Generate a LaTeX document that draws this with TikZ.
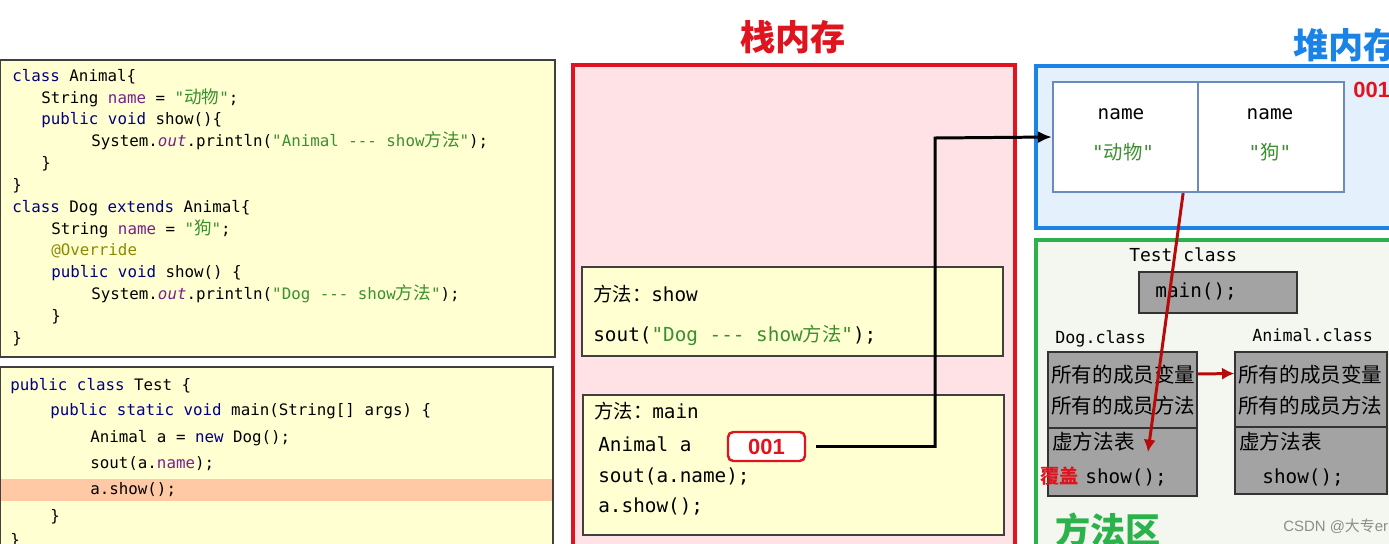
\documentclass[tikz,border=0pt]{standalone}
\usepackage{fontspec}
\setmainfont{Liberation Sans}
\setmonofont{DejaVu Sans Mono}
\newfontfamily\cjk{Noto Sans CJK SC}
\usetikzlibrary{arrows.meta,positioning}

\definecolor{codebg}{HTML}{FFFFD2}
\definecolor{hilite}{HTML}{FFC9A6}
\definecolor{kwblue}{HTML}{000080}
\definecolor{fieldpurple}{HTML}{7A1F8C}
\definecolor{strgreen}{HTML}{3A8F2E}
\definecolor{annolive}{HTML}{8A8A00}
\definecolor{stackred}{HTML}{E0141E}
\definecolor{stackbg}{HTML}{FFE2E6}
\definecolor{heapblue}{HTML}{1B82E6}
\definecolor{heapbg}{HTML}{E4F1FD}
\definecolor{cellblue}{HTML}{6A8BBE}
\definecolor{areagreen}{HTML}{2BB24C}
\definecolor{areabg}{HTML}{F4F7F0}
\definecolor{classgray}{HTML}{A3A3A3}
\definecolor{arrowred}{HTML}{B80A0A}

\newcommand\zh[1]{{\cjk #1}}
\newcommand\zhc[1]{{\cjk\fontsize{10}{10}\selectfont #1}}
\newcommand\kw[1]{\textcolor{kwblue}{#1}}
\newcommand\fld[1]{\textcolor{fieldpurple}{#1}}
\newcommand\str[1]{\textcolor{strgreen}{#1}}

\tikzset{
  codeline/.style={anchor=mid west, inner sep=0pt, font=\ttfamily\fontsize{9}{10}\selectfont},
  memline/.style={anchor=mid west, inner sep=0pt, font=\ttfamily\fontsize{11}{13}\selectfont},
  zhline/.style={anchor=mid west, inner sep=0pt, font=\cjk\fontsize{11.7}{13}\selectfont},
  title/.style={inner sep=0pt, font=\cjk\bfseries\fontsize{20}{22}\selectfont},
  cell/.style={draw=cellblue, line width=1.3pt, fill=white, inner sep=0pt},
  graybox/.style={draw=black!80, line width=0.8pt, fill=classgray, inner sep=0pt},
  ptr/.style={-{Latex[length=8pt,width=7pt]}, line width=1.7pt},
  redptr/.style={-{Latex[length=7pt,width=7pt]}, line width=1.7pt, arrowred}
}

\begin{document}
\begin{tikzpicture}[x=0.02cm, y=-0.02cm]
\useasboundingbox (0,0) rectangle (1389,544);
\clip (0,0) rectangle (1389,544);

% code: class Animal / class Dog
\draw[fill=codebg, draw=black!75, line width=0.9pt] (0,60) rectangle (555,357);
\node[codeline] (c1) at (12,77) {\kw{class} Animal\{};
\node[codeline] (c2) at (41,99) {String \fld{name} = \str{"\zhc{动物}"};};
\node[codeline] (c3) at (41,120) {\kw{public} \kw{void} show()\{};
\node[codeline] (c4) at (91,142) {System.\fld{\itshape out}.println(\str{"Animal -{}-{}- show\zhc{方法}"});};
\node[codeline] (c5) at (41,164) {\}};
\node[codeline] (c6) at (12,186) {\}};
\node[codeline] (c7) at (12,208) {\kw{class} Dog \kw{extends} Animal\{};
\node[codeline] (c8) at (51,230) {String \fld{name} = \str{"\zhc{狗}"};};
\node[codeline] (c9) at (51,251) {\textcolor{annolive}{@Override}};
\node[codeline] (c10) at (51,273) {\kw{public} \kw{void} show() \{};
\node[codeline] (c11) at (91,295) {System.\fld{\itshape out}.println(\str{"Dog -{}-{}- show\zhc{方法}"});};
\node[codeline] (c12) at (51,317) {\}};
\node[codeline] (c13) at (12,339) {\}};

% code: class Test
\draw[fill=codebg, draw=black!75, line width=0.9pt] (0,367) rectangle (553,570);
\fill[hilite] (1,479) rectangle (552,501);
\node[codeline] (t1) at (10,386) {\kw{public} \kw{class} Test \{};
\node[codeline] (t2) at (50,411) {\kw{public} \kw{static} \kw{void} main(String[] args) \{};
\node[codeline] (t3) at (90,438) {Animal a = \kw{new} Dog();};
\node[codeline] (t4) at (90,464) {sout(a.\fld{name});};
\node[codeline] (t5) at (90,490) {a.show();};
\node[codeline] (t6) at (50,517) {\}};
\node[codeline] (t7) at (10,541) {\}};

% stack
\node[title, text=stackred] (stacktitle) at (793,37) {栈内存};
\draw[fill=stackbg, draw=stackred, line width=1.8pt] (573,65) rectangle (1015,580);

% frame of show
\draw[fill=codebg, draw=black!75, line width=0.8pt] (582,267) rectangle (1003,356);
\node[memline] (showhead) at (593,297) {\zh{方法：}show};
\node[memline] (showbody) at (593,337) {sout(\str{"Dog -{}-{}- show\zh{方法}"});};

% frame of main
\draw[fill=codebg, draw=black!75, line width=0.8pt] (583,395) rectangle (1004,535);
\node[memline] (mainhead) at (594,414) {\zh{方法：}main};
\node[memline] (avar) at (598,447) {Animal a};
\node[memline] (aname) at (598,478) {sout(a.name);};
\node[memline] (ashow) at (598,508) {a.show();};
\node[draw=stackred, line width=1.4pt, fill=white, rounded corners=3pt,
      minimum width=1.54cm, minimum height=0.58cm, inner sep=0pt,
      text=stackred, font=\bfseries\fontsize{12.5}{14}\selectfont] (ref) at (766.5,446.5) {001};

% heap
\node[title, text=heapblue, anchor=west] (heaptitle) at (1293,45) {堆内存};
\draw[fill=heapbg, draw=heapblue, line width=2pt] (1036,66) rectangle (1420,228);
\node[cell, minimum width=2.9cm, minimum height=2.2cm] (cellA) at (1125.5,137) {};
\node[cell, minimum width=2.92cm, minimum height=2.2cm] (cellB) at (1271,137) {};
\node[memline, anchor=mid] (nameA) at (1121,115) {name};
\node[memline, anchor=mid] (valA) at (1123,155) {\str{"\zh{动物}"}};
\node[memline, anchor=mid] (nameB) at (1270,115) {name};
\node[memline, anchor=mid] (valB) at (1270,155) {\str{"\zh{狗}"}};
\node[anchor=mid west, inner sep=0pt, text=stackred, font=\bfseries\fontsize{12.5}{14}\selectfont] (heapaddr) at (1353,93) {001};

% method area
\draw[fill=areabg, draw=areagreen, line width=2pt] (1036,240) rectangle (1420,580);
\node[memline, font=\ttfamily\fontsize{10.2}{12}\selectfont] (testlbl) at (1129,257) {Test class};
\node[graybox, minimum width=3.16cm, minimum height=0.82cm] (testbox) at (1218,292.5) {};
\node[memline] (mainfn) at (1155,293) {main();};

% Dog.class
\node[memline, font=\ttfamily\fontsize{9.5}{11}\selectfont] (doglbl) at (1055,339) {Dog.class};
\node[graybox, minimum width=2.98cm, minimum height=1.52cm] (dogTop) at (1122.5,390) {};
\node[graybox, minimum width=2.98cm, minimum height=1.36cm] (dogBot) at (1122.5,462) {};
\node[zhline] (dogvar) at (1051,378) {所有的成员变量};
\node[zhline] (dogmeth) at (1051,409) {所有的成员方法};
\node[zhline] (dogvt) at (1052,445) {虚方法表};
\node[zhline, text=stackred, font=\cjk\bfseries\fontsize{11}{13}\selectfont] (override) at (1040,479) {覆盖};
\node[memline] (dogshow) at (1085,479) {show();};

% Animal.class
\node[memline, font=\ttfamily\fontsize{9.5}{11}\selectfont] (animallbl) at (1252,337) {Animal.class};
\node[graybox, minimum width=3.04cm, minimum height=1.5cm] (animalTop) at (1311,389.5) {};
\node[graybox, minimum width=3.04cm, minimum height=1.34cm] (animalBot) at (1311,460.5) {};
\node[zhline] (anivar) at (1238,378) {所有的成员变量};
\node[zhline] (animeth) at (1238,409) {所有的成员方法};
\node[zhline] (anivt) at (1239,445) {虚方法表};
\node[memline] (anishow) at (1262,479) {show();};

\node[title, text=areagreen, anchor=west] (areatitle) at (1055,530) {方法区};
\node[anchor=mid west, inner sep=0pt, text=black!45, font=\fontsize{8.5}{10}\selectfont] (mark) at (1283,527) {CSDN @\zh{大专}er};

% reference a -> object 001
\coordinate (turn) at (935,138);
\draw[ptr] ([xshift=0.2cm]ref.east) -| (turn) -- (cellA.west);

% a.show() looks up the virtual method table
\coordinate (vtab) at (1148,452);
\draw[redptr] ([xshift=-0.32cm]cellA.south east) -- (vtab);

% Dog extends Animal
\draw[redptr] ([yshift=0.32cm]dogTop.east) -- ([yshift=0.32cm]animalTop.west);

\end{tikzpicture}
\end{document}
